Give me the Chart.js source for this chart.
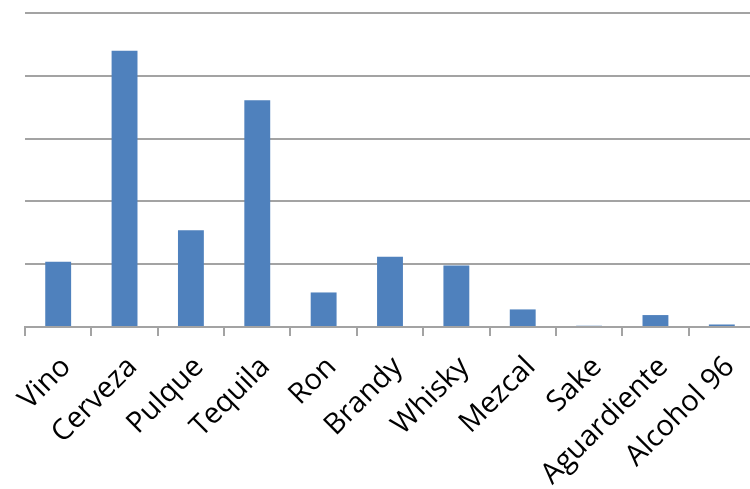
<!DOCTYPE html>
<html>
<head>
<meta charset="utf-8">
<script src="https://cdn.jsdelivr.net/npm/chart.js@4"></script>
<style>
    html, body { margin: 0; padding: 0; background: #fff; overflow: hidden; }
    #wrap { position: relative; width: 755px; height: 489px; }
</style>
</head>
<body>
<div id="wrap"><canvas id="chart"></canvas></div>
<script>
// Chart data (units = one gridline step)
const categories = ['Vino', 'Cerveza', 'Pulque', 'Tequila', 'Ron', 'Brandy', 'Whisky', 'Mezcal', 'Sake', 'Aguardiente', 'Alcohol 96'];
const values = [1.04, 4.40, 1.54, 3.61, 0.55, 1.12, 0.98, 0.28, 0.02, 0.19, 0.04];
const yTicks = [0, 1, 2, 3, 4, 5];

const gridColor = '#a3a3a3';

new Chart(document.getElementById('chart'), {
    type: 'bar',
    data: {
        labels: categories,
        datasets: [{
            data: values,
            backgroundColor: '#4f81bd',
            barPercentage: 0.39,
            categoryPercentage: 1
        }]
    },
    options: {
        responsive: true,
        maintainAspectRatio: false,
        animation: false,
        layout: { padding: { top: 13, right: 0, left: 0, bottom: 0 } },
        plugins: {
            legend: { display: false },
            tooltip: { enabled: false }
        },
        scales: {
            x: {
                grid: {
                    offset: true,
                    drawOnChartArea: false,
                    drawTicks: true,
                    tickLength: 9,
                    color: gridColor,
                    lineWidth: 2
                },
                border: { display: true, color: gridColor, width: 2 },
                ticks: {
                    color: '#000',
                    font: { family: 'Open Sans', size: 29 },
                    minRotation: 45,
                    maxRotation: 45,
                    padding: 14,
                    labelOffset: 8
                },
                afterFit: (scale) => {
                    scale.height = 489 - 327;
                    scale.paddingLeft = 0;
                    scale.paddingRight = 0;
                }
            },
            y: {
                min: yTicks[0],
                max: yTicks[yTicks.length - 1],
                afterBuildTicks: (scale) => { scale.ticks = yTicks.map(v => ({ value: v })); },
                grid: {
                    color: gridColor,
                    lineWidth: 2,
                    drawTicks: false
                },
                border: { display: false },
                ticks: { display: false },
                afterFit: (scale) => { scale.width = 25; }
            }
        }
    }
});
</script>
</body>
</html>
